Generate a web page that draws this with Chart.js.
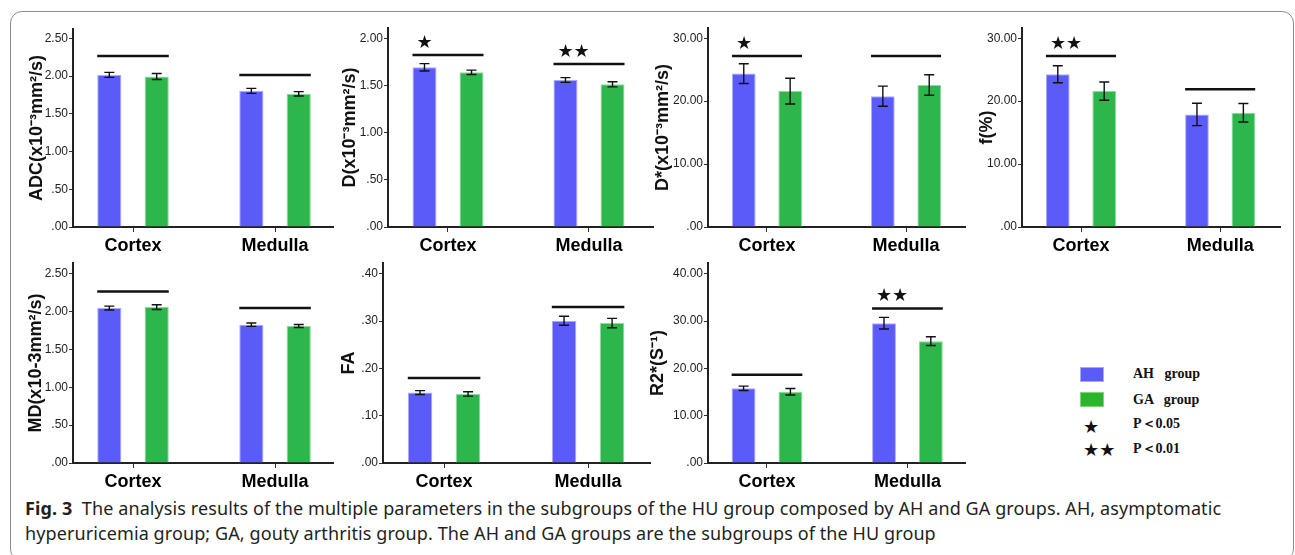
<!DOCTYPE html>
<html>
<head>
<meta charset="utf-8">
<script src="https://cdn.jsdelivr.net/npm/chart.js@4.4.1/dist/chart.umd.min.js"></script>
<style>
html, body { margin: 0; padding: 0; background: #fff; }
body { width: 1295px; height: 555px; position: relative; overflow: hidden; }
#frame { position: absolute; left: 10px; top: 11px; width: 1284px; height: 550px; border: 1px solid #8c8c8c; border-radius: 12px; box-sizing: border-box; }
canvas { position: absolute; }
.lg { position: absolute; font-family: "Liberation Serif", serif; font-weight: bold; font-size: 14px; color: #111; white-space: pre; line-height: 16px; }
.sw { position: absolute; width: 24px; height: 15px; }
.st { position: absolute; font-family: "DejaVu Sans", sans-serif; font-size: 18px; color: #111; line-height: 18px; white-space: pre; }
#cap { position: absolute; left: 25px; top: 496px; font-family: "Noto Sans", sans-serif; font-size: 18px; letter-spacing: 0.1px; line-height: 25px; color: #231f20; white-space: nowrap; }
</style>
</head>
<body>
<div id="frame"></div>

<div class="sw" style="left:1080px;top:367px;background:#5b5bfa;border:1px solid #a8a8ff;box-sizing:border-box;"></div>
<div class="lg" style="left:1133px;top:366px;">AH   group</div>
<div class="sw" style="left:1080px;top:392px;background:#2bb52b;border:1px solid #7fd27f;box-sizing:border-box;"></div>
<div class="lg" style="left:1133px;top:392px;">GA   group</div>
<div class="st" style="left:1083px;top:418px;">★</div>
<div class="lg" style="left:1133px;top:416px;">P＜0.05</div>
<div class="st" style="left:1083px;top:441px;">★★</div>
<div class="lg" style="left:1133px;top:441px;">P＜0.01</div>

<div id="cap"><b>Fig. 3</b>&nbsp; The analysis results of the multiple parameters in the subgroups of the HU group composed by AH and GA groups. AH, asymptomatic<br>hyperuricemia group; GA, gouty arthritis group. The AH and GA groups are the subgroups of the HU group</div>

<script>
const categories = ['Cortex', 'Medulla'];
const groups = ['AH group', 'GA group'];

// ADC
const adcAH = [2.015, 1.803];
const adcGA = [1.993, 1.764];
const adcErrAH = [0.033, 0.033];
const adcErrGA = [0.040, 0.029];
const adcSig = [2.266, 2.015];
const adcStars = [0, 0];
const adcTicks = [0, 0.5, 1, 1.5, 2, 2.5];
const adcTickLabels = ['.00', '.50', '1.00', '1.50', '2.00', '2.50'];

// D
const dAH = [1.692, 1.557];
const dGA = [1.639, 1.511];
const dErrAH = [0.039, 0.025];
const dErrGA = [0.023, 0.027];
const dSig = [1.823, 1.727];
const dStars = [1, 2];
const dTicks = [0, 0.5, 1, 1.5, 2];
const dTickLabels = ['.00', '.50', '1.00', '1.50', '2.00'];

// D*
const dsAH = [24.38, 20.8];
const dsGA = [21.6, 22.57];
const dsErrAH = [1.57, 1.6];
const dsErrGA = [2.04, 1.62];
const dsSig = [27.19, 27.19];
const dsStars = [1, 0];
const dsTicks = [0, 10, 20, 30];
const dsTickLabels = ['.00', '10.00', '20.00', '30.00'];

// f
const fAH = [24.27, 17.9];
const fGA = [21.6, 18.16];
const fErrAH = [1.35, 1.78];
const fErrGA = [1.46, 1.46];
const fSig = [27.19, 21.88];
const fStars = [2, 0];
const fTicks = [0, 10, 20, 30];
const fTickLabels = ['.00', '10.00', '20.00', '30.00'];

// MD
const mdAH = [2.047, 1.827];
const mdGA = [2.06, 1.81];
const mdErrAH = [0.026, 0.022];
const mdErrGA = [0.031, 0.02];
const mdSig = [2.267, 2.047];
const mdStars = [0, 0];
const mdTicks = [0, 0.5, 1, 1.5, 2, 2.5];
const mdTickLabels = ['.00', '.50', '1.00', '1.50', '2.00', '2.50'];

// FA
const faAH = [0.149, 0.301];
const faGA = [0.146, 0.296];
const faErrAH = [0.004, 0.0095];
const faErrGA = [0.0046, 0.01];
const faSig = [0.18, 0.33];
const faStars = [0, 0];
const faTicks = [0, 0.1, 0.2, 0.3, 0.4];
const faTickLabels = ['.00', '.10', '.20', '.30', '.40'];

// R2*
const r2AH = [15.8, 29.58];
const r2GA = [15.07, 25.77];
const r2ErrAH = [0.46, 1.23];
const r2ErrGA = [0.7, 0.92];
const r2Sig = [18.66, 32.68];
const r2Stars = [0, 2];
const r2Ticks = [0, 10, 20, 30, 40];
const r2TickLabels = ['.00', '10.00', '20.00', '30.00', '40.00'];

const panels = [
  { title: 'ADC(x10⁻³mm²/s)', ah: adcAH, ga: adcGA, eAH: adcErrAH, eGA: adcErrGA, sig: adcSig, stars: adcStars, ticks: adcTicks, labels: adcTickLabels, yMax: 2.62,
    ax: 73, top: 29, right: 333, zero: 227, tOff: 36, xMin: -0.4225, xMax: 1.408 },
  { title: 'D(x10⁻³mm²/s)', ah: dAH, ga: dGA, eAH: dErrAH, eGA: dErrGA, sig: dSig, stars: dStars, ticks: dTicks, labels: dTickLabels, yMax: 2.106,
    ax: 388, top: 28, right: 653, zero: 227, tOff: 38, xMin: -0.4255, xMax: 1.454 },
  { title: 'D*(x10⁻³mm²/s)', ah: dsAH, ga: dsGA, eAH: dsErrAH, eGA: dsErrGA, sig: dsSig, stars: dsStars, ticks: dsTicks, labels: dsTickLabels, yMax: 31.6,
    ax: 708, top: 28, right: 965, zero: 227, tOff: 45, xMin: -0.424, xMax: 1.424 },
  { title: 'f(%)', ah: fAH, ga: fGA, eAH: fErrAH, eGA: fErrGA, sig: fSig, stars: fStars, ticks: fTicks, labels: fTickLabels, yMax: 31.6,
    ax: 1022, top: 28, right: 1280, zero: 227, tOff: 35, xMin: -0.424, xMax: 1.43 },
  { title: 'MD(x10-3mm²/s)', ah: mdAH, ga: mdGA, eAH: mdErrAH, eGA: mdErrGA, sig: mdSig, stars: mdStars, ticks: mdTicks, labels: mdTickLabels, yMax: 2.64,
    ax: 73, top: 263, right: 333, zero: 463, tOff: 37, xMin: -0.4225, xMax: 1.408 },
  { title: 'FA', ah: faAH, ga: faGA, eAH: faErrAH, eGA: faErrGA, sig: faSig, stars: faStars, ticks: faTicks, labels: faTickLabels, yMax: 0.4226,
    ax: 383, top: 263, right: 650, zero: 463, tOff: 34, xMin: -0.424, xMax: 1.43 },
  { title: 'R2*(S⁻¹)', ah: r2AH, ga: r2GA, eAH: r2ErrAH, eGA: r2ErrGA, sig: r2Sig, stars: r2Stars, ticks: r2Ticks, labels: r2TickLabels, yMax: 42.26,
    ax: 708, top: 263, right: 965, zero: 463, tOff: 50, xMin: -0.42, xMax: 1.41 }
];

// error bars, significance lines and stars
const extras = {
  id: 'extras',
  afterDatasetsDraw(chart, args, opts) {
    const ctx = chart.ctx, y = chart.scales.y;
    ctx.save();
    ctx.strokeStyle = '#111';
    ctx.lineWidth = 1.4;
    chart.data.datasets.forEach((ds, di) => {
      chart.getDatasetMeta(di).data.forEach((bar, i) => {
        const v = ds.data[i].y, e = ds.errors[i];
        const yt = y.getPixelForValue(v + e), yb = y.getPixelForValue(v - e);
        ctx.beginPath();
        ctx.moveTo(bar.x, yt); ctx.lineTo(bar.x, yb);
        ctx.moveTo(bar.x - 5, yt); ctx.lineTo(bar.x + 5, yt);
        ctx.moveTo(bar.x - 5, yb); ctx.lineTo(bar.x + 5, yb);
        ctx.stroke();
      });
    });
    const m0 = chart.getDatasetMeta(0).data, m1 = chart.getDatasetMeta(1).data;
    ctx.lineWidth = 2.5;
    ctx.fillStyle = '#111';
    ctx.font = '18px "DejaVu Sans"';
    ctx.textBaseline = 'middle';
    opts.levels.forEach((lv, i) => {
      const x0 = m0[i].x - m0[i].width / 2, x1 = m1[i].x + m1[i].width / 2;
      const py = y.getPixelForValue(lv);
      ctx.beginPath(); ctx.moveTo(x0, py); ctx.lineTo(x1, py); ctx.stroke();
      for (let k = 0; k < opts.stars[i]; k++) ctx.fillText('★', x0 + 4 + k * 16, py - 12);
    });
    ctx.restore();
  }
};

const padTop = 8, padRight = 4, xh = 32;
const sansFamily = "'Liberation Sans', Arial, sans-serif";

panels.forEach(p => {
  const yw = p.tOff + 11;
  const cv = document.createElement('canvas');
  const w = (p.right - p.ax) + yw + padRight;
  const h = (p.zero - p.top) + padTop + xh;
  cv.width = w; cv.height = h;
  cv.style.left = (p.ax - yw) + 'px';
  cv.style.top = (p.top - padTop) + 'px';
  document.body.appendChild(cv);

  new Chart(cv, {
    type: 'bar',
    data: {
      datasets: [
        { label: groups[0], data: p.ah.map((v, i) => ({ x: i, y: v })), errors: p.eAH,
          backgroundColor: '#5b5bfa', borderColor: '#a9a9ff', borderWidth: 1 },
        { label: groups[1], data: p.ga.map((v, i) => ({ x: i, y: v })), errors: p.eGA,
          backgroundColor: '#2db64b', borderColor: '#8fd99e', borderWidth: 1 }
      ]
    },
    options: {
      responsive: false,
      animation: false,
      devicePixelRatio: 1,
      categoryPercentage: 0.667,
      barPercentage: 0.51,
      layout: { padding: { left: 0, top: padTop, right: padRight, bottom: 0 } },
      plugins: {
        legend: { display: false },
        tooltip: { enabled: false },
        extras: { levels: p.sig, stars: p.stars }
      },
      scales: {
        x: {
          type: 'linear', offset: false, min: p.xMin, max: p.xMax,
          afterBuildTicks: s => { s.ticks = [{ value: 0 }, { value: 1 }]; },
          afterFit: s => { s.height = xh; },
          grid: { display: true, drawOnChartArea: false, offset: false, tickLength: 5, color: '#333' },
          border: { display: true, color: '#222', width: 2 },
          ticks: { callback: v => categories[v], maxRotation: 0, padding: 3, color: '#000',
            font: { family: sansFamily, size: 18, weight: 'bold' } }
        },
        y: {
          min: 0, max: p.yMax,
          afterBuildTicks: s => { s.ticks = p.ticks.map(v => ({ value: v })); },
          afterFit: s => { s.width = yw; },
          grid: { display: true, drawOnChartArea: false, tickLength: 4, color: '#333' },
          border: { display: true, color: '#222', width: 2 },
          ticks: { callback: (v, i) => p.labels[i], padding: 1, color: '#222',
            font: { family: sansFamily, size: 12 } },
          title: { display: true, text: p.title, color: '#111', padding: 0,
            font: { family: sansFamily, size: 18, weight: 'bold' } }
        }
      }
    },
    plugins: [extras]
  });
});
</script>
</body>
</html>
